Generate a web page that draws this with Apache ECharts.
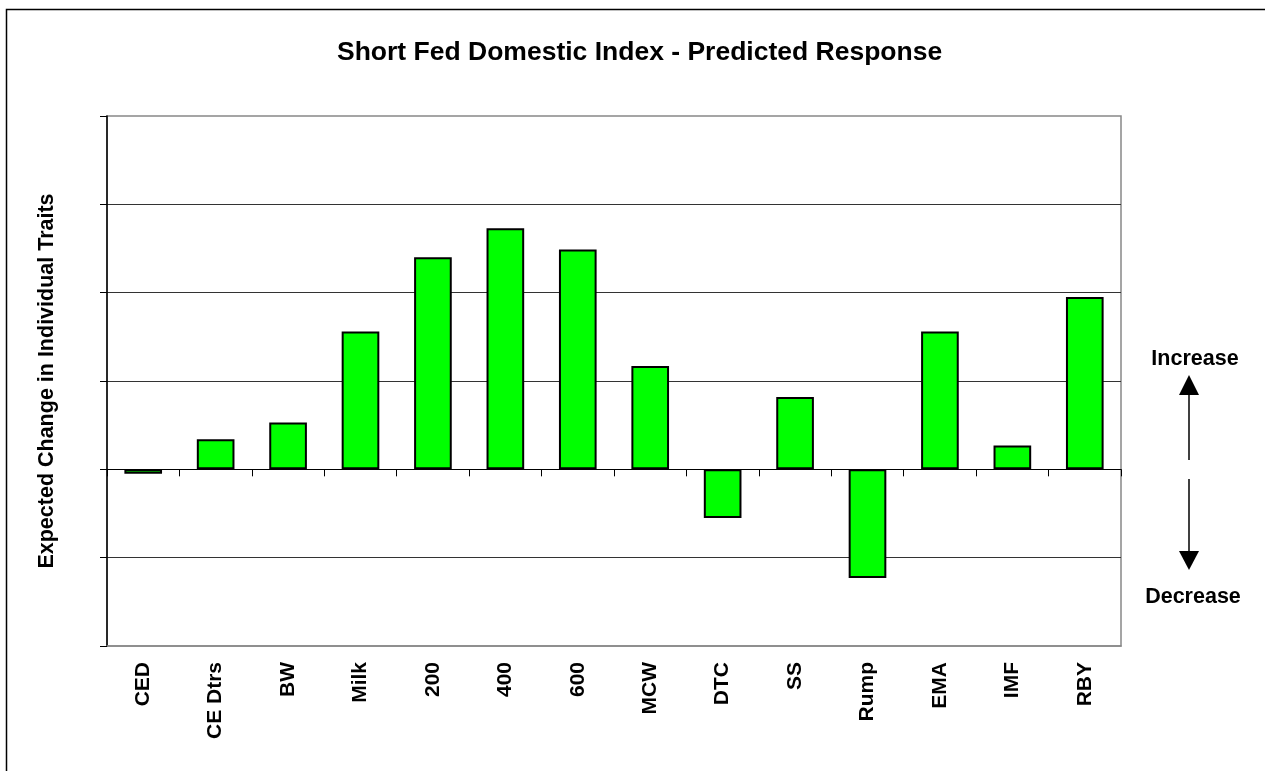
<!DOCTYPE html>
<html>
<head>
<meta charset="utf-8">
<script src="https://cdn.jsdelivr.net/npm/echarts@6/dist/echarts.min.js"></script>
<style>
html,body{margin:0;padding:0;background:#fff;}
#chart{width:1265px;height:771px;}
</style>
</head>
<body>
<div id="chart"></div>
<script>
const categories = ['CED','CE Dtrs','BW','Milk','200','400','600','MCW','DTC','SS','Rump','EMA','IMF','RBY'];
const values = [-0.05, 0.34, 0.53, 1.56, 2.40, 2.73, 2.49, 1.17, -0.55, 0.82, -1.23, 1.56, 0.27, 1.95];
const yMin = -2, yMax = 4, yStep = 1;

const FONT = '"Liberation Sans", Arial, sans-serif';
const chart = echarts.init(document.getElementById('chart'));
chart.setOption({
  animation: false,
  backgroundColor: '#fff',
  title: {
    text: 'Short Fed Domestic Index - Predicted Response',
    left: 332, top: 34,
    textStyle: {fontFamily: FONT, fontSize: 26.5, fontWeight: 'bold', color: '#000'}
  },
  grid: {left: 107, right: 144, top: 116, bottom: 125, show: true, borderColor: '#888', borderWidth: 1.5, backgroundColor: 'transparent'},
  xAxis: [{
    type: 'category', data: categories, position: 'bottom',
    axisLine: {onZero: false, lineStyle: {color: '#888', width: 1.5}},
    axisTick: {show: false},
    axisLabel: {rotate: 90, margin: 16, fontFamily: FONT, fontSize: 21, fontWeight: 'bold', color: '#000'}
  }, {
    type: 'category', data: categories, position: 'top',
    axisLine: {onZero: true, lineStyle: {color: '#000', width: 1}},
    axisTick: {show: true, inside: true, length: 7, lineStyle: {color: '#000'}},
    axisLabel: {show: false}
  }],
  yAxis: {
    type: 'value', min: yMin, max: yMax, interval: yStep,
    name: 'Expected Change in Individual Traits', nameLocation: 'middle', nameGap: 49,
    nameTextStyle: {fontFamily: FONT, fontSize: 21.5, fontWeight: 'bold', color: '#000'},
    axisLine: {show: true, lineStyle: {color: '#000', width: 1.5}},
    axisTick: {show: true, length: 7, lineStyle: {color: '#000'}},
    axisLabel: {show: false},
    splitLine: {show: true, showMinLine: false, showMaxLine: false, lineStyle: {color: '#333', width: 1}}
  },
  series: [{
    type: 'bar', data: values, xAxisIndex: 0, barWidth: '52%',
    itemStyle: {color: '#00ff00', borderColor: '#000', borderWidth: 2}
  }],
  graphic: [
    {type: 'rect', shape: {x: 6.5, y: 9.5, width: 1400, height: 900}, style: {fill: 'none', stroke: '#000', lineWidth: 1.5}, silent: true},
    {type: 'text', x: 1195, y: 359, style: {text: 'Increase', font: 'bold 21.5px ' + FONT, fill: '#000', align: 'center', verticalAlign: 'middle'}},
    {type: 'text', x: 1193, y: 597, style: {text: 'Decrease', font: 'bold 21.5px ' + FONT, fill: '#000', align: 'center', verticalAlign: 'middle'}},
    {type: 'polygon', shape: {points: [[1189, 375], [1179, 395], [1199, 395]]}, style: {fill: '#000'}},
    {type: 'line', shape: {x1: 1189, y1: 394, x2: 1189, y2: 460}, style: {stroke: '#000', lineWidth: 1.5}},
    {type: 'line', shape: {x1: 1189, y1: 479, x2: 1189, y2: 553}, style: {stroke: '#000', lineWidth: 1.5}},
    {type: 'polygon', shape: {points: [[1189, 570], [1179, 551], [1199, 551]]}, style: {fill: '#000'}}
  ]
});
</script>
</body>
</html>
